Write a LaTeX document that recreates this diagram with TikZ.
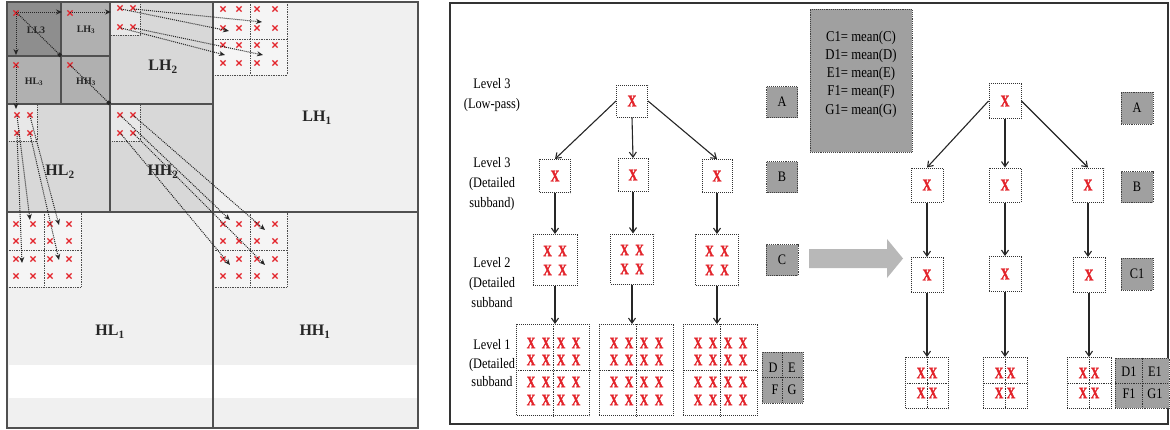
\documentclass[tikz,border=0pt]{standalone}
\usepackage{fontspec}
\setmainfont{Liberation Serif}
\newfontfamily\xfont[FakeStretch=0.74,FakeBold=1.6]{Liberation Serif}
\newfontfamily\cfont[FakeStretch=0.85]{Liberation Serif}
\usetikzlibrary{arrows.meta}
\definecolor{xred}{HTML}{E3242B}
\definecolor{lvA}{HTML}{8E8E8E}
\definecolor{lvB}{HTML}{B0B0B0}
\definecolor{lvC}{HTML}{D8D8D8}
\definecolor{lvD}{HTML}{F0F0F0}
\definecolor{blkC}{HTML}{E8E8E8}
\definecolor{blkD}{HTML}{F5F5F5}
\definecolor{gboxc}{HTML}{A0A0A0}
\definecolor{bigarr}{HTML}{B8B8B8}
\definecolor{edgec}{HTML}{505050}
\begin{document}
\begin{tikzpicture}[x=1pt,y=-1pt,
  sub/.style={draw=edgec,line width=1.1pt},
  blk/.style={draw=black!70,densely dotted,line width=0.7pt},
  xmk/.style={draw=xred,line width=1.3pt},
  larr/.style={densely dotted,line width=1pt,draw=black!85,-{Stealth[length=6pt,width=5pt]}},
  lsq/.style={densely dotted,line width=1pt,draw=black!85,-{Square[length=3.5pt]}},
  sblab/.style={font=\bfseries\fontsize{16}{16}\selectfont,text=black!85,inner sep=0pt},
  tinylab/.style={font=\bfseries\fontsize{10}{10}\selectfont,text=black!85,inner sep=0pt},
  lvl/.style={font=\cfont\fontsize{14.5}{20}\selectfont,align=center,inner sep=0pt},
  xbox/.style={draw=black!80,densely dotted,line width=1pt,fill=white,inner sep=0pt},
  xt/.style={text=xred,font=\xfont\bfseries\fontsize{16}{16}\selectfont,inner sep=0pt},
  xtb/.style={text=xred,font=\xfont\bfseries\fontsize{16.5}{16.5}\selectfont,inner sep=0pt},
  gb/.style={draw=black!75,densely dotted,line width=0.9pt,fill=gboxc,inner sep=0pt,font=\cfont\fontsize{14.5}{17}\selectfont},
  glet/.style={font=\cfont\fontsize{14.5}{17}\selectfont,inner sep=0pt},
  tarr/.style={draw=black!85,line width=1.1pt,-{Straight Barb[length=5pt,width=7pt]}},
  div/.style={draw=black!80,densely dotted,line width=0.8pt}
]
\useasboundingbox (0,0) rectangle (1170,429);
\fill[white] (0,0) rectangle (1170,429);

% ---------------- left panel: wavelet subbands ----------------
\fill[lvD] (7,2) rectangle (418,428);
\fill[white] (9,365) rectangle (418,398);
\fill[lvC] (7,2) rectangle (213,212);
\fill[lvB] (7,2) rectangle (110,104);
\fill[lvA] (7,2) rectangle (61,56);

\path[blk,fill=blkC] (110,2) rectangle (140,35);
\path[blk,fill=blkC] (7,104) rectangle (37,141);
\path[blk,fill=blkC] (110,104) rectangle (140,141);

\path[blk,fill=blkD] (213,2) rectangle (287,75);
\draw[blk] (250,2) -- (250,75) (213,39) -- (287,39);
\path[blk,fill=blkD] (7,212) rectangle (81,287);
\draw[blk] (44,212) -- (44,287) (7,250) -- (81,250);
\path[blk,fill=blkD] (213,212) rectangle (287,287);
\draw[blk] (250,212) -- (250,287) (213,250) -- (287,250);

\draw[sub] (7,2) rectangle (418,428);
\draw[sub] (213,2) -- (213,428) (7,212) -- (418,212)
           (110,2) -- (110,212) (7,104) -- (213,104)
           (61,2) -- (61,104) (7,56) -- (110,56);

\node[tinylab] (tLL3) at (36,30) {LL3};
\node[tinylab] (tLH3) at (86,30) {LH\textsubscript{3}};
\node[tinylab] (tHL3) at (34,82) {HL\textsubscript{3}};
\node[tinylab] (tHH3) at (86,82) {HH\textsubscript{3}};
\node[sblab] (tLH2) at (163,67) {LH\textsubscript{2}};
\node[sblab] (tHL2) at (60,172) {HL\textsubscript{2}};
\node[sblab] (tHH2) at (163,172) {HH\textsubscript{2}};
\node[sblab] (tLH1) at (317,118) {LH\textsubscript{1}};
\node[sblab] (tHL1) at (110,332) {HL\textsubscript{1}};
\node[sblab] (tHH1) at (315,332) {HH\textsubscript{1}};

\foreach \a/\b in {16/13,70/13,16/65,70/65,
  120/8,133/8,120/27,133/27, 17/115,30/115,17/133,30/133,
  120/115,133/115,120/133,133/133}
  \draw[xmk] (\a-2.6,\b-2.6) -- (\a+2.6,\b+2.6) (\a-2.6,\b+2.6) -- (\a+2.6,\b-2.6);
\foreach \a in {223,239,257,275}
  \foreach \b in {9,28,45,63,224,241,259,276}
    \draw[xmk] (\a-2.6,\b-2.6) -- (\a+2.6,\b+2.6) (\a-2.6,\b+2.6) -- (\a+2.6,\b-2.6);
\foreach \a in {16,33,50,69}
  \foreach \b in {224,241,259,276}
    \draw[xmk] (\a-2.6,\b-2.6) -- (\a+2.6,\b+2.6) (\a-2.6,\b+2.6) -- (\a+2.6,\b-2.6);

% arrow coordinates
\coordinate (ll3x) at (16,12);
\coordinate (lh3x) at (70,12);
\coordinate (hl3x) at (16,65);
\coordinate (hh3x) at (70,65);
\coordinate (e1) at (62,12);
\coordinate (e2) at (111,12);
\coordinate (e3) at (16,55);
\coordinate (e4) at (16,109);
\coordinate (c1) at (61,56);
\coordinate (c2) at (110,104);
\draw[larr] (ll3x) -- (e1);
\draw[larr] (lh3x) -- (e2);
\draw[larr] (ll3x) -- (e3);
\draw[larr] (hl3x) -- (e4);
\draw[lsq] (ll3x) -- (c1);
\draw[lsq] (hh3x) -- (c2);

\coordinate (s1) at (121,9);   \coordinate (t1) at (229,31);
\coordinate (s2) at (134,9);   \coordinate (t2) at (262,22);
\coordinate (s3) at (121,28);  \coordinate (t3) at (225,55);
\coordinate (s4) at (134,28);  \coordinate (t4) at (263,55);
\foreach \i in {1,...,4} \draw[larr] (s\i) -- (t\i);

\coordinate (u1) at (17,116);  \coordinate (v1) at (30,220);
\coordinate (u2) at (17,134);  \coordinate (v2) at (22,263);
\coordinate (u3) at (30,116);  \coordinate (v3) at (59,225);
\coordinate (u4) at (30,134);  \coordinate (v4) at (59,260);
\foreach \i in {1,...,4} \draw[larr] (u\i) -- (v\i);

\coordinate (p1) at (121,116); \coordinate (q1) at (230,220);
\coordinate (p2) at (134,116); \coordinate (q2) at (265,230);
\coordinate (p3) at (121,134); \coordinate (q3) at (230,265);
\coordinate (p4) at (134,134); \coordinate (q4) at (265,265);
\foreach \i in {1,...,4} \draw[larr] (p\i) -- (q\i);

% ---------------- right panel ----------------
\draw[line width=1.8pt,draw=black!80] (450,3) rectangle (1168,424);

\node[lvl] (lab3a) at (492,95) {Level 3\\(Low-pass)};
\node[lvl] (lab3b) at (492,184) {Level 3\\(Detailed\\subband)};
\node[lvl] (lab2) at (492,283) {Level 2\\(Detailed\\subband};
\node[lvl,font=\cfont\fontsize{14.5}{18.5}\selectfont] (lab1) at (492,363.5) {Level 1\\(Detailed\\subband};

% left tree
\node[xbox,minimum width=31pt,minimum height=32pt] (r1) at (632,101) {};
\node[xtb] (r1x) at (r1) {X};
\node[xbox,minimum width=31pt,minimum height=33pt] (d1) at (555,176) {};
\node[xbox,minimum width=30pt,minimum height=33pt] (d2) at (633,175) {};
\node[xbox,minimum width=30pt,minimum height=33pt] (d3) at (717,176) {};
\foreach \t in {d1,d2,d3} \node[xtb] (\t x) at (\t) {X};
\node[xbox,minimum width=44pt,minimum height=51pt] (m1) at (555,260) {};
\node[xbox,minimum width=43pt,minimum height=50pt] (m2) at (632,259) {};
\node[xbox,minimum width=43pt,minimum height=51pt] (m3) at (717,260) {};
\foreach \t in {m1,m2,m3}
  \foreach \dx [count=\i] in {-7.5,7.5}
    \foreach \dy [count=\j] in {-9,10}
      \path (\t) ++(\dx,\dy) node[xt] (\t x\i\j) {X};
\node[xbox,minimum width=73pt,minimum height=91pt] (b1) at (553,370) {};
\node[xbox,minimum width=74pt,minimum height=91pt] (b2) at (636,370) {};
\node[xbox,minimum width=74pt,minimum height=91pt] (b3) at (720,370) {};
\foreach \t in {b1,b2,b3} {
  \draw[div] (\t.north) -- (\t.south) (\t.west) -- (\t.east);
  \foreach \dx [count=\i] in {-22,-7,8,23}
    \foreach \dy [count=\j] in {-27,-10,12,30}
      \path (\t) ++(\dx,\dy) node[xt] (\t x\i\j) {X};
}
\draw[tarr] (r1.west) -- (d1.north);
\draw[tarr] (r1.south) -- (d2.north);
\draw[tarr] (r1.east) -- (d3.north);
\foreach \k in {1,2,3} {
  \draw[tarr] (d\k.south) -- (d\k.south |- m\k.north);
  \draw[tarr] (m\k.south) -- (m\k.south |- b\k.north);
}

% grey labels left tree
\node[gb,minimum width=31pt,minimum height=31pt] (ga) at (782,102) {A};
\node[gb,minimum width=31pt,minimum height=31pt] (gbb) at (782,177) {B};
\node[gb,minimum width=32pt,minimum height=31pt] (gc) at (782,260) {C};
\node[gb,minimum width=41pt,minimum height=51pt] (gdefg) at (782.5,377.5) {};
\draw[div] (gdefg.north) -- (gdefg.south) (gdefg.west) -- (gdefg.east);
\node[glet] (lD) at (773,368) {D};
\node[glet] (lE) at (792,368) {E};
\node[glet] (lF) at (775,390) {F};
\node[glet] (lG) at (792,390) {G};

% mean box
\node[gb,minimum width=102pt,minimum height=143pt] (mbox) at (861,80.5) {};
\node[font=\cfont\fontsize{15}{18.3}\selectfont,align=center,inner sep=0pt] (mtxt) at (861,74)
  {C1= mean(C)\\D1= mean(D)\\E1= mean(E)\\F1= mean(F)\\G1= mean(G)};

% big arrow
\fill[bigarr] (809,249) -- (887,249) -- (887,239) -- (903,258.5) -- (887,278) -- (887,268) -- (809,268) -- cycle;

% right tree
\node[xbox,minimum width=32pt,minimum height=35pt] (R1) at (1005,101) {};
\node[xtb] (R1x) at (R1) {X};
\node[xbox,minimum width=32pt,minimum height=34pt] (D1) at (927,185) {};
\node[xbox,minimum width=32pt,minimum height=34pt] (D2) at (1005,185) {};
\node[xbox,minimum width=31pt,minimum height=34pt] (D3) at (1088,185) {};
\node[xbox,minimum width=32pt,minimum height=35pt] (M1) at (927,275) {};
\node[xbox,minimum width=32pt,minimum height=35pt] (M2) at (1005,274) {};
\node[xbox,minimum width=32pt,minimum height=35pt] (M3) at (1089,275) {};
\foreach \t in {D1,D2,D3,M1,M2,M3} \node[xtb] (\t x) at (\t) {X};
\node[xbox,minimum width=43pt,minimum height=51pt] (B1) at (927,383) {};
\node[xbox,minimum width=44pt,minimum height=51pt] (B2) at (1005,383) {};
\node[xbox,minimum width=44pt,minimum height=51pt] (B3) at (1089,383) {};
\foreach \t in {B1,B2,B3} {
  \draw[div] (\t.north) -- (\t.south) (\t.west) -- (\t.east);
  \foreach \dx [count=\i] in {-6,6}
    \foreach \dy [count=\j] in {-10,10}
      \path (\t) ++(\dx,\dy) node[xt] (\t x\i\j) {X};
}
\draw[tarr] (R1.west) -- (D1.north);
\draw[tarr] (R1.south) -- (D2.north);
\draw[tarr] (R1.east) -- (D3.north);
\foreach \k in {1,2,3} {
  \draw[tarr] (D\k.south) -- (D\k.south |- M\k.north);
  \draw[tarr] (M\k.south) -- (M\k.south |- B\k.north);
}

% grey labels right tree
\node[gb,minimum width=32pt,minimum height=32pt] (gar) at (1137,108) {A};
\node[gb,minimum width=32pt,minimum height=31pt] (gbr) at (1137,187) {B};
\node[gb,minimum width=32pt,minimum height=32pt] (gcr) at (1137,274) {C1};
\node[gb,minimum width=54pt,minimum height=50pt] (gdr) at (1142,383) {};
\draw[div] (gdr.north) -- (gdr.south) (gdr.west) -- (gdr.east);
\node[glet] (lD1) at (1129,372) {D1};
\node[glet] (lE1) at (1155,372) {E1};
\node[glet] (lF1) at (1129,394) {F1};
\node[glet] (lG1) at (1155,394) {G1};
\end{tikzpicture}
\end{document}
